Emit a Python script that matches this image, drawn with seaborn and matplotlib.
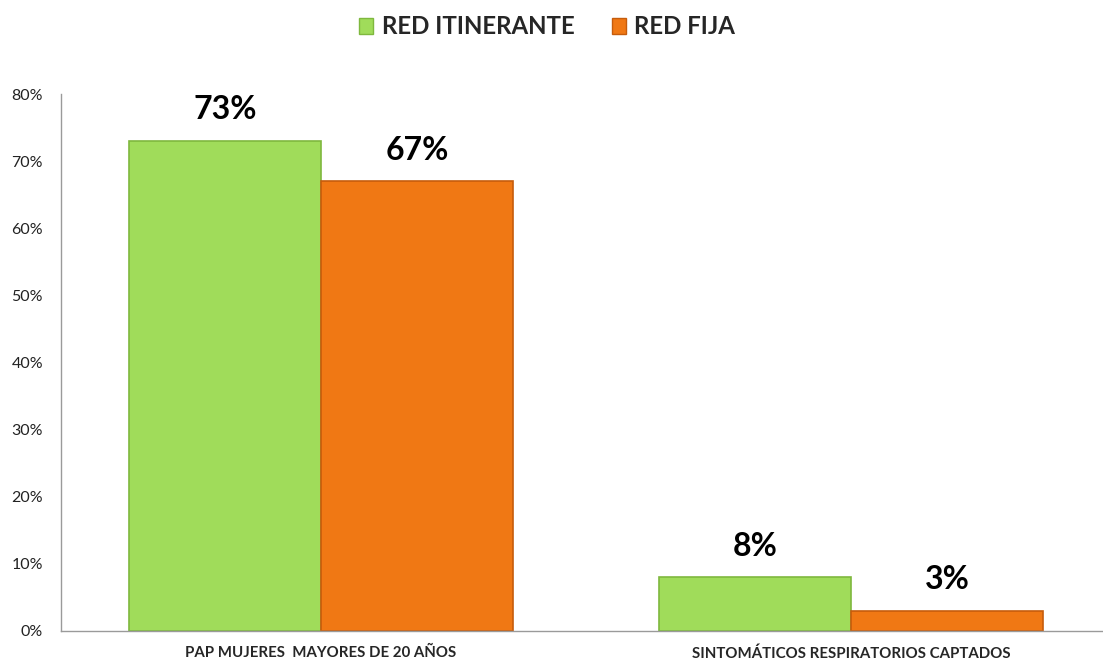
import matplotlib
matplotlib.use("Agg")
import matplotlib.pyplot as plt
import seaborn as sns
import pandas as pd
from matplotlib.patches import Patch

categories = ["PAP MUJERES  MAYORES DE 20 AÑOS", "SINTOMÁTICOS RESPIRATORIOS CAPTADOS"]
series = ["RED ITINERANTE", "RED FIJA"]
itinerante = [73, 8]
fija = [67, 3]
y_ticks = [0, 10, 20, 30, 40, 50, 60, 70, 80]

colors = {"RED ITINERANTE": "#A0DC5A", "RED FIJA": "#F07814"}
edges = {"RED ITINERANTE": "#7FB83E", "RED FIJA": "#C65C0C"}

df = pd.DataFrame({
    "categoria": categories * 2,
    "red": [series[0]] * 2 + [series[1]] * 2,
    "valor": itinerante + fija,
})

sns.set_style("white")
plt.rcParams["font.family"] = ["Lato", "DejaVu Sans"]

fig = plt.figure(figsize=(11.03, 6.64), dpi=100)
ax = fig.add_axes([61 / 1103, 33 / 664, 1 - 61 / 1103, (631 - 94) / 664])

sns.barplot(data=df, x="categoria", y="valor", hue="red", hue_order=series,
            palette=colors, width=0.725, gap=0, legend=False, ax=ax, errorbar=None,
            saturation=1)

for container, name in zip(ax.containers, series):
    for bar in container:
        bar.set_edgecolor(edges[name])
        bar.set_linewidth(1.2)
    ax.bar_label(container, labels=[f"{v:.0f}%" for v in container.datavalues],
                 padding=12, fontsize=23, fontweight="bold", color="black")

ax.set_xlim(-0.4906, 1.475)
ax.set_ylim(0, 80)
ax.set_yticks(y_ticks)
ax.set_yticklabels([f"{t}%" for t in y_ticks], fontsize=11.5, color="#222222")
ax.tick_params(axis="y", length=0, pad=13)
ax.tick_params(axis="x", length=0, pad=11)
for lbl in ax.get_xticklabels():
    lbl.set_fontsize(10.8)
    lbl.set_fontweight("bold")
ax.set_xlabel("")
ax.set_ylabel("")
for side in ["top", "right"]:
    ax.spines[side].set_visible(False)
for side in ["left", "bottom"]:
    ax.spines[side].set_color("#9a9a9a")
    ax.spines[side].set_linewidth(1.0)

handles = [Patch(facecolor=colors[s], edgecolor=edges[s], label=s) for s in series]
fig.legend(handles=handles, loc="center", bbox_to_anchor=(547 / 1103, 1 - 27 / 664), ncol=2,
           frameon=False, prop={"weight": "bold", "size": 17.3}, handlelength=0.6,
           handleheight=0.6, handletextpad=0.35, columnspacing=1.55)

fig.savefig("out.png", dpi=100, facecolor="white")
